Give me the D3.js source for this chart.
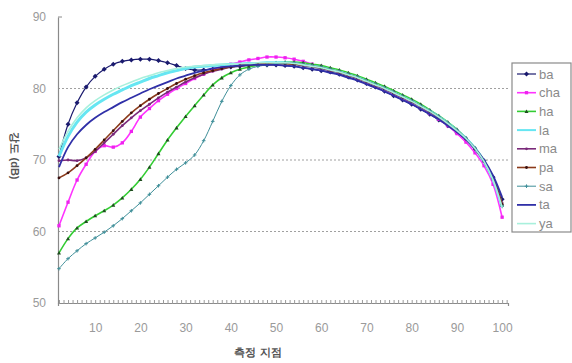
<!DOCTYPE html>
<html>
<head>
<meta charset="utf-8">
<script src="https://cdn.jsdelivr.net/npm/d3@7"></script>
<style>
  html, body { margin: 0; padding: 0; background: #fff; }
  svg { display: block; }
  text { font-family: "Liberation Sans", Arial, sans-serif; }
</style>
</head>
<body>
<svg id="chart" width="572" height="363"></svg>
<script>
// Measurement points (every second point)
const points = [2,4,6,8,10,12,14,16,18,20,22,24,26,28,30,32,34,36,38,40,42,44,46,48,50,
                52,54,56,58,60,62,64,66,68,70,72,74,76,78,80,82,84,86,88,90,92,94,96,98,100];

const seriesNames = ["ba","cha","ha","la","ma","pa","sa","ta","ya"];

const ba  = [70.5,75.0,78.0,80.2,81.7,82.7,83.4,83.8,84.0,84.1,84.1,83.9,83.6,83.2,82.8,82.6,82.6,82.7,82.9,83.0,83.1,83.2,83.3,83.3,83.3,
             83.2,83.1,82.9,82.7,82.5,82.3,82.0,81.6,81.2,80.7,80.2,79.6,79.0,78.4,77.8,77.1,76.4,75.6,74.8,73.8,72.8,71.5,69.9,67.6,64.5];
const cha = [60.8,64.1,67.2,69.4,71.2,72.0,71.8,72.4,74.0,76.0,77.2,78.3,79.2,80.0,80.7,81.4,82.0,82.5,83.0,83.4,83.7,84.0,84.2,84.4,84.4,
             84.3,84.1,83.8,83.4,83.1,82.7,82.3,81.9,81.4,80.9,80.4,79.8,79.2,78.6,78.0,77.3,76.5,75.7,74.8,73.7,72.5,71.0,69.2,66.6,62.0];
const ha  = [57.0,59.0,60.5,61.4,62.2,62.9,63.7,64.7,65.9,67.3,69.0,70.9,72.8,74.5,76.1,77.6,79.1,80.5,81.5,82.2,82.7,83.0,83.3,83.5,83.6,
             83.7,83.7,83.6,83.4,83.2,82.9,82.6,82.2,81.8,81.3,80.8,80.3,79.7,79.1,78.5,77.8,77.0,76.2,75.3,74.3,73.1,71.7,69.9,67.4,63.8];
const la  = [70.5,73.3,75.3,76.7,77.7,78.5,79.2,79.8,80.4,80.9,81.4,81.8,82.2,82.5,82.8,83.0,83.1,83.2,83.3,83.4,83.4,83.5,83.5,83.6,83.6,
             83.6,83.5,83.3,83.1,82.9,82.6,82.3,81.9,81.5,81.0,80.5,80.0,79.4,78.8,78.2,77.5,76.8,76.0,75.1,74.1,73.0,71.6,69.8,67.3,63.5];
const ma  = [69.9,70.0,69.9,70.3,71.2,72.4,73.6,74.8,75.9,76.9,77.8,78.7,79.5,80.2,80.9,81.5,82.0,82.4,82.7,83.0,83.2,83.3,83.4,83.5,83.5,
             83.5,83.4,83.2,83.0,82.8,82.5,82.2,81.8,81.4,80.9,80.4,79.9,79.3,78.7,78.1,77.4,76.7,75.9,75.0,74.0,72.9,71.5,69.8,67.4,64.0];
const pa  = [67.5,68.2,69.2,70.3,71.5,72.8,74.1,75.4,76.6,77.6,78.5,79.3,80.0,80.7,81.3,81.8,82.2,82.5,82.8,83.0,83.2,83.3,83.4,83.5,83.5,
             83.5,83.4,83.3,83.1,82.9,82.6,82.3,81.9,81.5,81.0,80.5,80.0,79.4,78.8,78.2,77.5,76.8,76.0,75.1,74.1,73.0,71.6,69.9,67.5,63.8];
const sa  = [54.8,56.2,57.3,58.3,59.1,59.9,60.8,61.8,62.9,64.0,65.2,66.4,67.6,68.7,69.6,70.7,72.7,75.4,78.2,80.4,81.9,82.7,83.1,83.3,83.5,
             83.6,83.6,83.4,83.2,83.0,82.7,82.4,82.0,81.6,81.1,80.6,80.1,79.5,78.9,78.3,77.6,76.9,76.1,75.2,74.2,73.1,71.7,69.9,67.4,63.5];
const ta  = [69.0,71.8,73.6,74.9,75.9,76.7,77.4,78.1,78.7,79.3,79.9,80.4,80.9,81.4,81.8,82.2,82.5,82.8,83.0,83.1,83.2,83.3,83.3,83.3,83.3,
             83.2,83.1,82.9,82.7,82.5,82.2,81.9,81.5,81.1,80.6,80.1,79.6,79.0,78.4,77.8,77.1,76.4,75.7,74.8,73.9,72.9,71.6,70.0,67.8,64.8];
const ya  = [71.5,74.0,75.9,77.3,78.3,79.1,79.8,80.4,80.9,81.4,81.8,82.2,82.5,82.8,83.0,83.1,83.2,83.3,83.4,83.4,83.5,83.5,83.6,83.6,83.6,
             83.6,83.5,83.3,83.1,82.9,82.6,82.3,81.9,81.5,81.0,80.5,80.0,79.4,78.8,78.2,77.5,76.8,76.0,75.1,74.1,73.0,71.6,69.8,67.2,63.4];

const seriesValues = [ba, cha, ha, la, ma, pa, sa, ta, ya];

const xTickLabels = [10,20,30,40,50,60,70,80,90,100];
const yTickLabels = [50,60,70,80,90];
const gridValues = [60,70,80];

// Styling per series: line colour, marker shape, marker colour, widths
const styles = [
  { line: "#1a1a6e", width: 1.2, marker: "diamond",  mfill: "#1a1a6e", msize: 2.5 },
  { line: "#ff33ff", width: 1.6, marker: "square",   mfill: "#ee22ee", msize: 3.3 },
  { line: "#33cc33", width: 1.6, marker: "triangle", mfill: "#1f4d1f", msize: 2.0 },
  { line: "#66e6f2", width: 3.0, marker: "none",     mfill: "#66e6f2", msize: 0 },
  { line: "#7a2a7a", width: 1.6, marker: "circle",   mfill: "#7a2a7a", msize: 1.4 },
  { line: "#8b3a1a", width: 1.6, marker: "circle",   mfill: "#3a1010", msize: 1.4 },
  { line: "#3f8f99", width: 1.0, marker: "plus",     mfill: "#3f8f99", msize: 1.8 },
  { line: "#3030a8", width: 1.8, marker: "none",     mfill: "#3030a8", msize: 0 },
  { line: "#a8f0dc", width: 1.6, marker: "none",     mfill: "#a8f0dc", msize: 0 }
];

const svg = d3.select("#chart");

const x = d3.scaleLinear().domain([1.78, 101.3]).range([58, 508]);
const y = d3.scaleLinear().domain([50, 90]).range([303, 17]);

// Horizontal dotted gridlines
svg.append("g").selectAll("line").data(gridValues).join("line")
  .attr("x1", x.range()[0]).attr("x2", x.range()[1])
  .attr("y1", d => y(d)).attr("y2", d => y(d))
  .attr("stroke", "#a0a0a0").attr("stroke-width", 1)
  .attr("stroke-dasharray", "2,2");

// Y axis
const yAxis = d3.axisLeft(y).tickValues(yTickLabels).tickSize(0).tickPadding(12);
const gy = svg.append("g").attr("transform", `translate(${x.range()[0]},0)`).call(yAxis);
gy.select(".domain").attr("stroke", "#8a8a8a").attr("stroke-width", 1.2);
gy.selectAll("text").attr("fill", "#9a9a9a").attr("font-size", 12);
// small mark at the top of the axis
svg.append("line").attr("x1", 58).attr("x2", 62).attr("y1", y(90)).attr("y2", y(90))
  .attr("stroke", "#8a8a8a");

// X axis with a tick at every measurement point
const gx = svg.append("g").attr("transform", `translate(0,${y(50)})`)
  .call(d3.axisBottom(x).tickValues(d3.range(2, 102)).tickSize(3).tickFormat(""));
gx.select(".domain").attr("stroke", "#8a8a8a").attr("stroke-width", 1.2);
gx.selectAll(".tick line").attr("stroke", "#9a9a9a").attr("y1", -3).attr("y2", 1);

const gxl = svg.append("g").attr("transform", `translate(0,${y(50)})`)
  .call(d3.axisBottom(x).tickValues(xTickLabels).tickSize(0).tickPadding(20));
gxl.select(".domain").remove();
gxl.selectAll("text").attr("fill", "#9a9a9a").attr("font-size", 12);

// Axis titles
svg.append("text")
  .attr("x", 258).attr("y", 356)
  .attr("text-anchor", "middle")
  .attr("font-family", "'Noto Sans CJK KR', sans-serif")
  .attr("font-size", 11).attr("font-weight", "bold").attr("fill", "#555")
  .text("측정 지점");

svg.append("text")
  .attr("transform", "translate(11,156) rotate(90)")
  .attr("text-anchor", "middle")
  .attr("font-family", "'Noto Sans CJK KR', sans-serif")
  .attr("font-size", 11).attr("font-weight", "bold").attr("fill", "#555")
  .text("강도 (dB)");

// Marker drawing helper
function drawMarker(g, shape, cx, cy, s, fill) {
  if (shape === "diamond") {
    g.append("path").attr("d", `M${cx},${cy - s}L${cx + s},${cy}L${cx},${cy + s}L${cx - s},${cy}Z`).attr("fill", fill);
  } else if (shape === "square") {
    g.append("rect").attr("x", cx - s / 2).attr("y", cy - s / 2).attr("width", s).attr("height", s).attr("fill", fill);
  } else if (shape === "triangle") {
    g.append("path").attr("d", `M${cx},${cy - s}L${cx + s},${cy + s * 0.8}L${cx - s},${cy + s * 0.8}Z`).attr("fill", fill);
  } else if (shape === "circle") {
    g.append("circle").attr("cx", cx).attr("cy", cy).attr("r", s).attr("fill", fill);
  } else if (shape === "plus") {
    g.append("path").attr("d", `M${cx - s},${cy}H${cx + s}M${cx},${cy - s}V${cy + s}`).attr("stroke", fill).attr("stroke-width", 1);
  }
}

const line = d3.line().x(d => x(d[0])).y(d => y(d[1])).curve(d3.curveCatmullRom.alpha(0.5));

const plot = svg.append("g");
seriesValues.forEach((vals, i) => {
  const st = styles[i];
  const data = points.map((p, k) => [p, vals[k]]);
  const g = plot.append("g").attr("class", "series-" + seriesNames[i]);
  g.append("path").datum(data).attr("d", line)
    .attr("fill", "none").attr("stroke", st.line).attr("stroke-width", st.width)
    .attr("stroke-linejoin", "round");
  if (st.marker !== "none") {
    data.forEach(d => drawMarker(g, st.marker, x(d[0]), y(d[1]), st.msize, st.mfill));
  }
});

// Legend
const lg = svg.append("g").attr("transform", "translate(512,63)");
lg.append("rect").attr("x", 0).attr("y", 0).attr("width", 59).attr("height", 169)
  .attr("fill", "#fff").attr("stroke", "#8a8a8a").attr("stroke-width", 1.2);
seriesNames.forEach((name, i) => {
  const st = styles[i];
  const cy = 11 + i * 18.7;
  const row = lg.append("g");
  row.append("line").attr("x1", 5).attr("x2", 24).attr("y1", cy).attr("y2", cy)
    .attr("stroke", st.line).attr("stroke-width", Math.min(st.width, 2));
  if (st.marker !== "none") drawMarker(row, st.marker, 14.5, cy, st.msize, st.mfill);
  row.append("text").attr("x", 27).attr("y", cy + 4.5)
    .attr("font-size", 13).attr("fill", "#8a8a8a").text(name);
});
</script>
</body>
</html>
